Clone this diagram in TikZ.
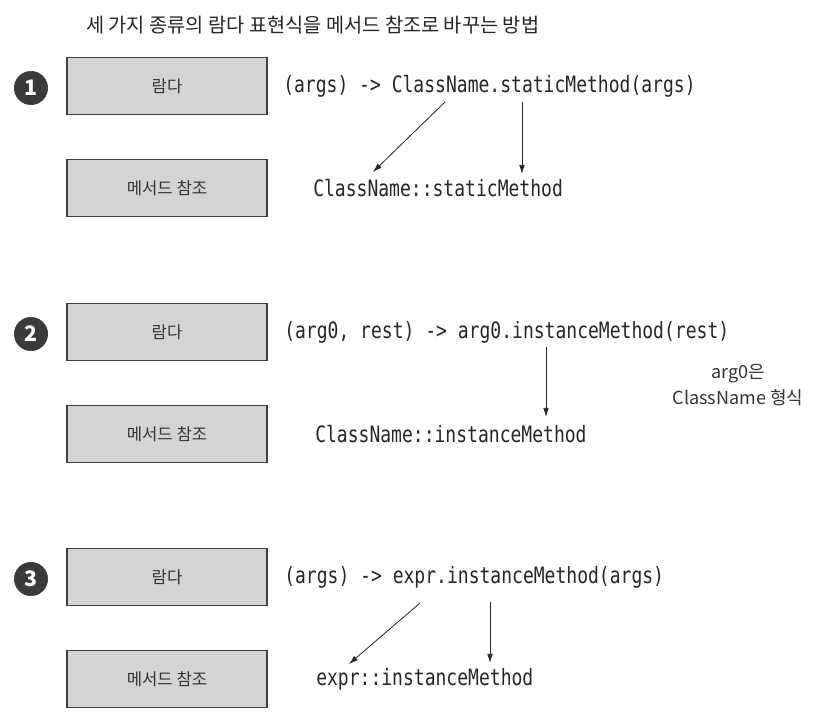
\documentclass[tikz,border=0pt]{standalone}
\usepackage{fontspec}
\setmainfont{Noto Sans CJK KR}
\newfontfamily\codefont[FakeStretch=0.8]{DejaVu Sans Mono}
\usetikzlibrary{positioning,arrows.meta}
\definecolor{boxgray}{HTML}{D4D4D4}
\definecolor{dotgray}{HTML}{3A3A3A}
\tikzset{
  kbox/.style={draw=black!75, fill=boxgray, line width=0.9pt, minimum width=150pt, minimum height=42.75pt, font=\fontsize{12.5}{14}\selectfont, text=black!80},
  numdot/.style={circle, fill=dotgray, draw=black!80, minimum size=25pt, inner sep=0pt, text=white, font=\fontsize{16}{16}\selectfont\bfseries},
  code/.style={anchor=west, inner sep=0pt, font=\codefont\fontsize{16.9}{18}\selectfont, text=black!85},
  note/.style={font=\fontsize{13.5}{19.5}\selectfont, text=black!80, align=center},
  refarrow/.style={-{Latex[length=2.4mm,width=1.5mm]}, line width=0.6pt, black!85}
}
\begin{document}
\begin{tikzpicture}[x=0.75pt, y=-0.75pt]
  \useasboundingbox[fill=white] (0,0) rectangle (816,723);
  \node[anchor=west, inner sep=0pt, font=\fontsize{14.8}{16}\selectfont, text=black!85] (title) at (86,25) {세 가지 종류의 람다 표현식을 메서드 참조로 바꾸는 방법};
  % boxes and numbers
  \foreach \i/\y in {1/86,2/332,3/577}{
    \node[numdot] (num\i) at (31,\y+2) {\i};
    \node[kbox] (lam\i) at (167,\y) {람다};
    \node[kbox] (ref\i) at (167,\y+102) {메서드 참조};
  }
  % lambda and method reference texts
  \node[code] (code1) at (283,86) {(args) -> ClassName.staticMethod(args)};
  \node[code] (mref1) at (313,188) {ClassName::staticMethod};
  \node[code] (code2) at (284,332) {(arg0, rest) -> arg0.instanceMethod(rest)};
  \node[code] (mref2) at (315,434) {ClassName::instanceMethod};
  \node[code] (code3) at (284,577) {(args) -> expr.instanceMethod(args)};
  \node[code] (mref3) at (316,679) {expr::instanceMethod};
  \node[note] (hint2) at (738,385) {arg0은\\ClassName 형식};
  % arrow ends
  \coordinate (a1s) at (445,102); \coordinate (a1e) at (373,172);
  \coordinate (b1s) at (522,102); \coordinate (b1e) at (522,174);
  \coordinate (b2s) at (546,347); \coordinate (b2e) at (546,417);
  \coordinate (a3s) at (420,603); \coordinate (a3e) at (349,664);
  \coordinate (b3s) at (490,602); \coordinate (b3e) at (490,663);
  \foreach \s/\e in {a1s/a1e,b1s/b1e,b2s/b2e,a3s/a3e,b3s/b3e}
    \draw[refarrow] (\s) -- (\e);
\end{tikzpicture}
\end{document}
